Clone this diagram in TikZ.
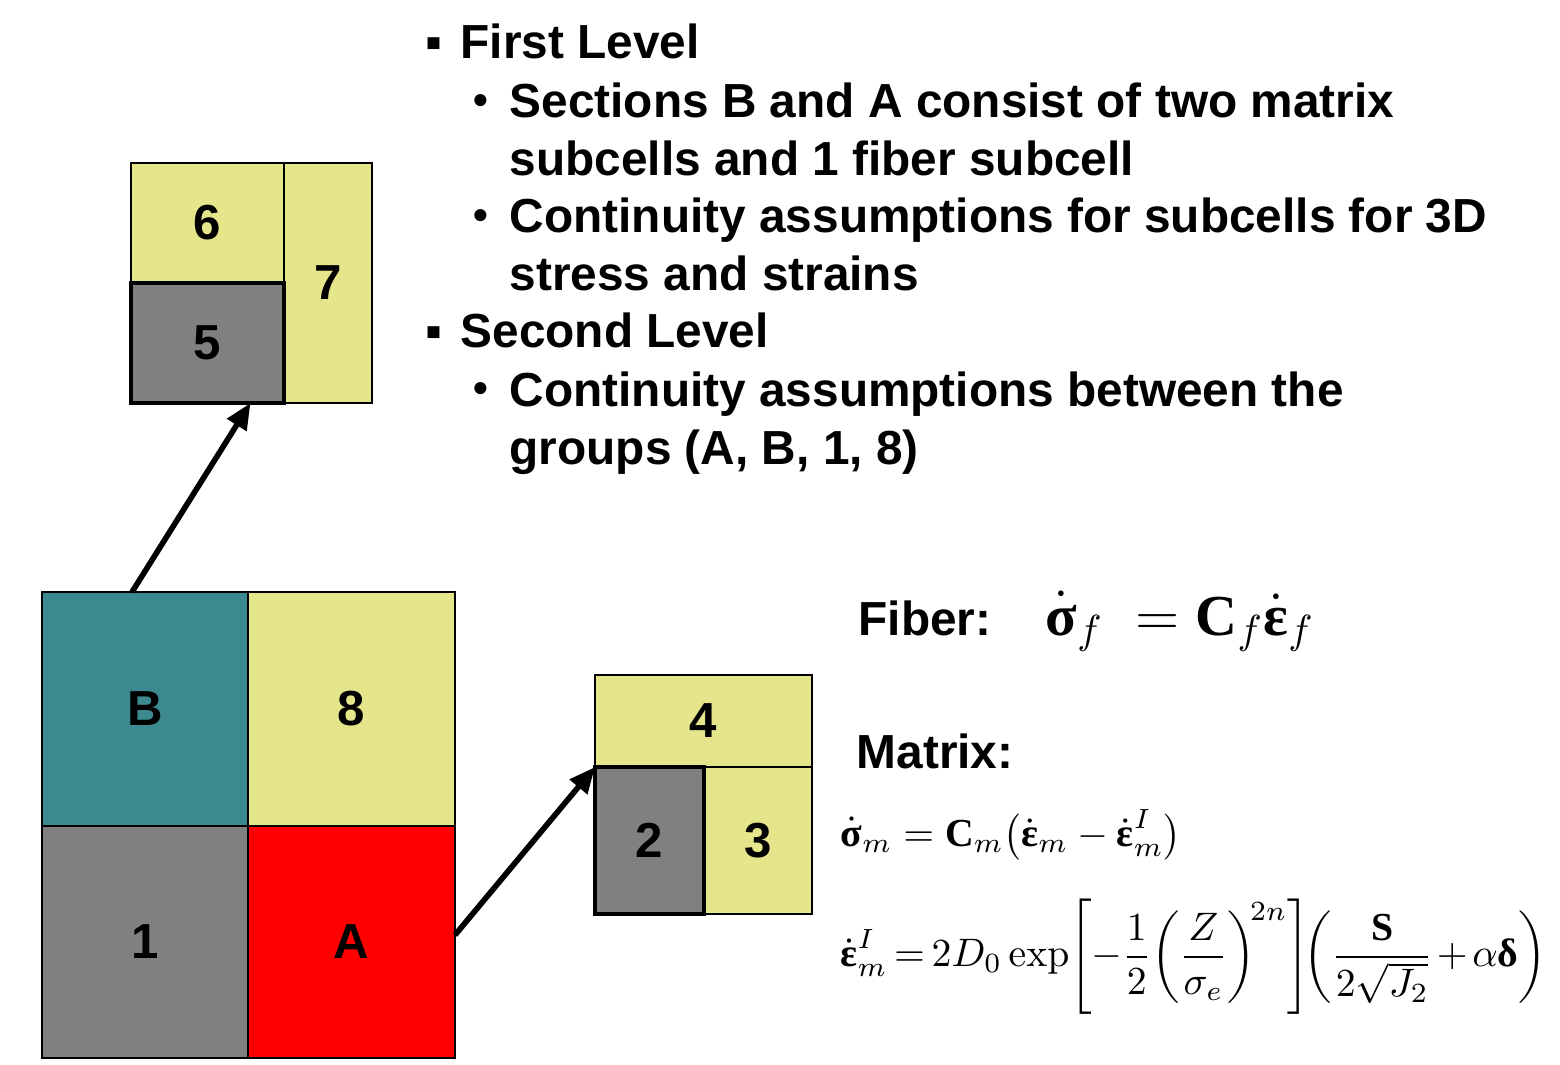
\RequirePackage{fix-cm}
\documentclass[tikz,border=0pt]{standalone}
\usepackage[no-math]{fontspec}
\setmainfont{Liberation Sans}
\newfontfamily\eqserif{Liberation Serif}
\usepackage{amsmath}
\usepackage{tikz}
\usetikzlibrary{arrows.meta, positioning}
\definecolor{cellyellow}{HTML}{E5E58C}
\definecolor{cellgray}{HTML}{808080}
\definecolor{cellteal}{HTML}{3C8A8F}
\definecolor{cellred}{HTML}{FF0000}
\newcommand{\bsym}[1]{\text{\eqserif\bfseries #1}}
\newcommand{\tightmath}{\medmuskip=2mu\relax\thickmuskip=3mu\relax}

\begin{document}
\begin{tikzpicture}[
      cell/.style={draw, line width=0.7pt, inner sep=0pt, outer sep=0pt,
        font=\bfseries\fontsize{14}{16}\selectfont},
      fibercell/.style={cell, fill=cellgray, line width=1.1pt},
      bulletmark/.style={anchor=base west, inner sep=0pt,
        font=\bfseries\fontsize{13.6}{16.4}\selectfont},
      dotmark/.style={anchor=base west, inner sep=0pt, yshift=0.03cm,
        font=\bfseries\fontsize{12}{14}\selectfont},
      item/.style={anchor=base west, inner sep=0pt, align=left,
        font=\bfseries\fontsize{13.6}{16.4}\selectfont},
      eqn/.style={anchor=west, inner sep=0pt, font=\fontsize{11.3}{14}\selectfont},
      >={Triangle[length=0.26cm, width=0.22cm]}
    ]
      \useasboundingbox (0,0) rectangle (15.6,10.64);
      % unit cell, first level
      \node[cell, fill=cellteal, minimum width=2.06cm, minimum height=2.34cm,
        anchor=north west] (cellB) at (0.42,4.72) {B};
      \node[cell, fill=cellyellow, minimum width=2.07cm, minimum height=2.34cm,
        right=0pt of cellB] (cell8) {8};
      \node[cell, fill=cellgray, minimum width=2.06cm, minimum height=2.32cm,
        below=0pt of cellB] (cell1) {1};
      \node[cell, fill=cellred, minimum width=2.07cm, minimum height=2.32cm,
        below=0pt of cell8] (cellA) {A};
      % section B
      \node[cell, fill=cellyellow, minimum width=1.53cm, minimum height=1.20cm,
        anchor=north west] (cell6) at (1.31,9.01) {6};
      \node[cell, fill=cellyellow, minimum width=0.88cm, minimum height=2.40cm,
        anchor=north west] (cell7) at (cell6.north east) {7};
      \node[fibercell, minimum width=1.53cm, minimum height=1.20cm,
        below=0pt of cell6] (cell5) {5};
      % section A
      \node[cell, fill=cellyellow, minimum width=2.17cm, minimum height=0.92cm,
        anchor=north west] (cell4) at (5.95,3.89) {4};
      \node[cell, fill=cellyellow, minimum width=1.08cm, minimum height=1.47cm,
        anchor=north east] (cell3) at (cell4.south east) {3};
      \node[fibercell, minimum width=1.09cm, minimum height=1.47cm,
        anchor=north west] (cell2) at (cell4.south west) {2};
      \draw[->, line width=1.6pt] ([xshift=-0.13cm]cellB.north) -- ([xshift=0.43cm]cell5.south);
      \draw[->, line width=1.6pt] ([yshift=0.07cm]cellA.east) -- (cell2.north west);
      % bullet list
      \node[bulletmark] (b1) at (4.25,10.05) {▪};
      \node[item] (lvl1) at (4.60,10.05) {First Level};
      \node[dotmark] (b1a) at (4.73,9.47) {•};
      \node[item] (lvl1a) at (5.09,8.89) {Sections B and A consist of two matrix\\subcells and 1 fiber subcell};
      \node[dotmark] (b1b) at (4.73,8.32) {•};
      \node[item] (lvl1b) at (5.09,7.74) {Continuity assumptions for subcells for 3D\\stress and strains};
      \node[bulletmark] (b2) at (4.25,7.17) {▪};
      \node[item] (lvl2) at (4.60,7.17) {Second Level};
      \node[dotmark] (b2a) at (4.73,6.59) {•};
      \node[item] (lvl2a) at (5.09,6.00) {Continuity assumptions between the\\groups (A, B, 1, 8)};
      % constitutive laws
      \node[item] (fiber) at (8.58,4.29) {Fiber:};
      \node[anchor=base west, inner sep=0pt, font=\fontsize{16.5}{18}\selectfont] (fibereq) at (10.45,4.29)
        {$\dot{\bsym{σ}}_f\;=\bsym{C}_f\dot{\bsym{ε}}_f$};
      \node[item] (matrix) at (8.56,2.96) {Matrix:};
      \node[eqn] (matrixeq1) at (8.40,2.29)
        {$\dot{\bsym{σ}}_m=\bsym{C}_m\bigl(\dot{\bsym{ε}}_m-\dot{\bsym{ε}}^I_m\bigr)$};
      \node[eqn] (matrixeq2) at (8.40,1.07)
        {$\tightmath\dot{\bsym{ε}}^I_m=2D_0\exp\!\left[-\dfrac{1}{2}\!\left(\dfrac{Z}{\sigma_e}\right)^{\!2n}\right]\!\!\left(\dfrac{\bsym{S}}{2\sqrt{J_2}}+\alpha\bsym{δ}\right)$};
\end{tikzpicture}
\end{document}
